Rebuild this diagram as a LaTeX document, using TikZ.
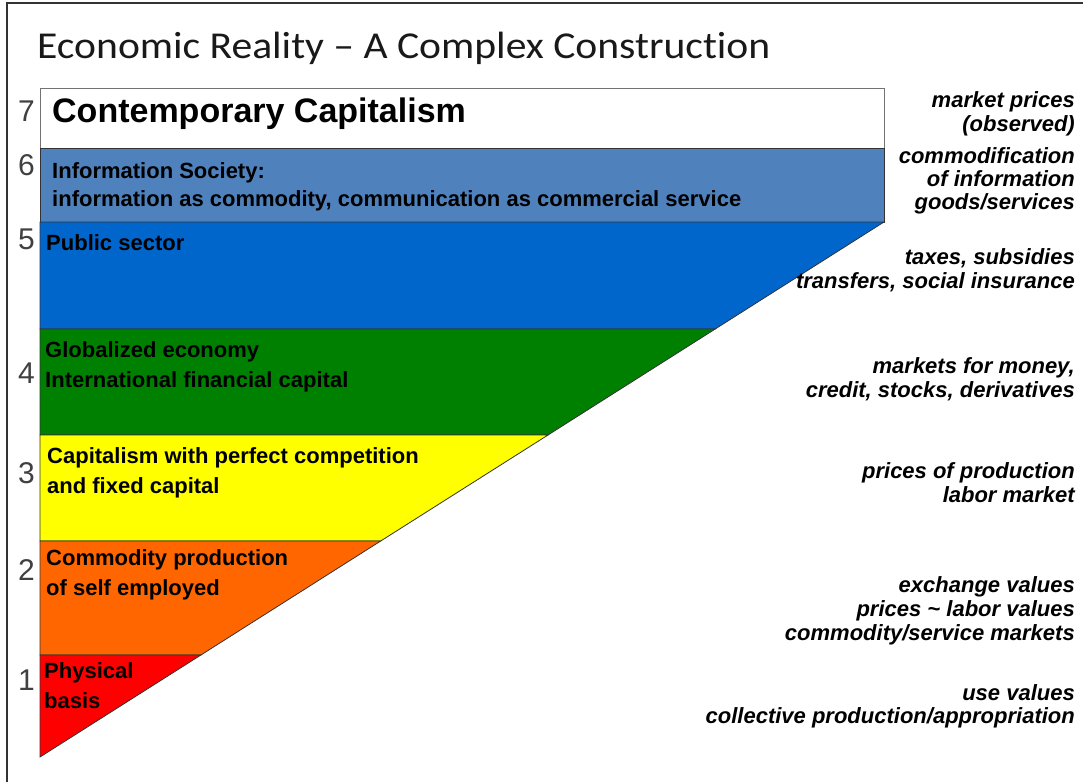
\documentclass[tikz,border=0pt]{standalone}
\usepackage{fontspec}
\setmainfont{Liberation Sans}
\newfontfamily\titlefont[FakeStretch=1.095,Ligatures=NoCommon]{Carlito}
\definecolor{csix}{HTML}{4F81BD}
\definecolor{cfive}{HTML}{0066CC}
\definecolor{cfour}{HTML}{008000}
\definecolor{cthree}{HTML}{FFFF00}
\definecolor{ctwo}{HTML}{FF6600}
\definecolor{cone}{HTML}{FF0000}
\definecolor{numgray}{HTML}{404040}
\tikzset{
  band/.style={draw=black!80, line width=0.8pt},
  lbl/.style={anchor=base west, inner sep=0pt, font=\fontsize{22}{24}\selectfont\bfseries},
  rlbl/.style={anchor=base east, inner sep=0pt, font=\fontsize{22}{24}\selectfont\bfseries\itshape},
  num/.style={anchor=base east, inner sep=0pt, text=numgray, font=\fontsize{30}{32}\selectfont},
}
\begin{document}
\begin{tikzpicture}[x=1pt,y=-1pt]
\useasboundingbox (0,0) rectangle (1083,782);
% frame
\draw[black!80, line width=1.5pt] (7,782) -- (7,3) -- (1083,3);
% title
\node[anchor=base west, inner sep=0pt, font=\titlefont\fontsize{38}{40}\selectfont, text=black!90] (title) at (37,58) {Economic Reality – A Complex Construction};
% layers
\draw[draw=black!55, line width=0.8pt, fill=white] (40,88) rectangle (884,148);
\draw[band, fill=csix] (40,148) rectangle (884,222);
\draw[band, fill=cfive] (40,222) -- (884,222) -- (715.2,329) -- (40,329) -- cycle;
\draw[band, fill=cfour] (40,329) -- (715.2,329) -- (548.0,435) -- (40,435) -- cycle;
\draw[band, fill=cthree] (40,435) -- (548.0,435) -- (380.7,541) -- (40,541) -- cycle;
\draw[band, fill=ctwo] (40,541) -- (380.7,541) -- (200.9,655) -- (40,655) -- cycle;
\draw[band, fill=cone] (40,655) -- (200.9,655) -- (40,757) -- cycle;
% numbers
\node[num] (n7) at (35,121) {7};
\node[num] (n6) at (35,175) {6};
\node[num] (n5) at (35,249) {5};
\node[num] (n4) at (35,383) {4};
\node[num] (n3) at (35,483) {3};
\node[num] (n2) at (35,580) {2};
\node[num] (n1) at (35,690) {1};
% layer labels
\node[anchor=base west, inner sep=0pt, font=\fontsize{34}{36}\selectfont\bfseries] (l7) at (52,122) {Contemporary Capitalism};
\node[lbl] (l6a) at (52,178) {Information Society:};
\node[lbl] (l6b) at (52,206) {information as commodity, communication as commercial service};
\node[lbl] (l5) at (46,250) {Public sector};
\node[lbl] (l4a) at (45,357) {Globalized economy};
\node[lbl] (l4b) at (45,387) {International financial capital};
\node[lbl] (l3a) at (47,463) {Capitalism with perfect competition};
\node[lbl] (l3b) at (47,493) {and fixed capital};
\node[lbl] (l2a) at (46,565) {Commodity production};
\node[lbl] (l2b) at (46,595) {of self employed};
\node[lbl] (l1a) at (44,678) {Physical};
\node[lbl] (l1b) at (44,708) {basis};
% right labels
\node[rlbl] (r7a) at (1075,107) {market prices};
\node[rlbl] (r7b) at (1075,131) {(observed)};
\node[rlbl] (r6a) at (1075,163) {commodification};
\node[rlbl] (r6b) at (1075,186) {of information};
\node[rlbl] (r6c) at (1075,209) {goods/services};
\node[rlbl] (r5a) at (1075,264) {taxes, subsidies};
\node[rlbl] (r5b) at (1075,288) {transfers, social insurance};
\node[rlbl] (r4a) at (1075,373) {markets for money,};
\node[rlbl] (r4b) at (1075,397) {credit, stocks, derivatives};
\node[rlbl] (r3a) at (1075,478) {prices of production};
\node[rlbl] (r3b) at (1075,502) {labor market};
\node[rlbl] (r2a) at (1075,592) {exchange values};
\node[rlbl] (r2b) at (1075,616) {prices \textasciitilde{} labor values};
\node[rlbl] (r2c) at (1075,640) {commodity/service markets};
\node[rlbl] (r1a) at (1075,700) {use values};
\node[rlbl] (r1b) at (1075,723) {collective production/appropriation};
\end{tikzpicture}
\end{document}
